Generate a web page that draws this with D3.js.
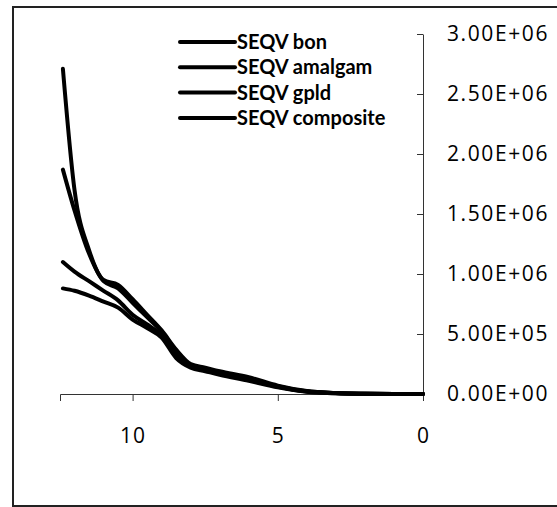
<html>
<head>
<script src="https://cdn.jsdelivr.net/npm/d3@7"></script>
<style>
  body { margin: 0; background: #fff; }
  text { font-family: "Open Sans", Lato, sans-serif; fill: #000; }
</style>
</head>
<body>
<div id="chart"></div>
<script>
var xVals = [12.4, 12, 11.5, 11, 10.5, 10, 9.5, 9, 8.5, 8, 7.5, 7, 6, 5, 4, 3, 2, 1, 0]

var bon       = [2.71e6, 1.70e6, 1.20e6, 0.95e6, 0.91e6, 0.79e6, 0.66e6, 0.53e6, 0.37e6, 0.25e6, 0.22e6, 0.19e6, 0.14e6, 0.07e6, 0.025e6, 0.008e6, 0.002e6, 0, 0]
var amalgam   = [1.87e6, 1.53e6, 1.17e6, 0.94e6, 0.88e6, 0.76e6, 0.64e6, 0.52e6, 0.36e6, 0.24e6, 0.21e6, 0.18e6, 0.13e6, 0.065e6, 0.022e6, 0.008e6, 0.002e6, 0, 0]
var gpld      = [1.10e6, 1.02e6, 0.94e6, 0.86e6, 0.78e6, 0.66e6, 0.58e6, 0.49e6, 0.33e6, 0.23e6, 0.20e6, 0.17e6, 0.12e6, 0.06e6, 0.02e6, 0.007e6, 0.002e6, 0, 0]
var composite = [0.88e6, 0.86e6, 0.82e6, 0.77e6, 0.72e6, 0.62e6, 0.55e6, 0.47e6, 0.30e6, 0.22e6, 0.19e6, 0.16e6, 0.11e6, 0.055e6, 0.018e6, 0.006e6, 0.002e6, 0, 0]

var seriesNames = ["SEQV bon", "SEQV amalgam", "SEQV gpld", "SEQV composite"]
var seriesVals = [bon, amalgam, gpld, composite]

var xTicks = [10, 5, 0]
var yTicks = [0, 5e5, 1e6, 1.5e6, 2e6, 2.5e6, 3e6]

var W = 557, H = 507

var svg = d3.select("#chart")
	.append("svg")
	.attr("width", W)
	.attr("height", H)

// outer frame, right side runs off the picture
svg.append("rect")
	.attr("x", 13)
	.attr("y", 7)
	.attr("width", 600)
	.attr("height", 499)
	.style("fill", "none")
	.style("stroke", "#222")
	.style("stroke-width", 2)

var x = d3.scaleLinear().domain([12.5, 0]).range([60, 423])
var y = d3.scaleLinear().domain([0, 3e6]).range([394, 34])

function fmtE(d) {
	if (d === 0) return "0.00E+00"
	var s = d.toExponential(2).toUpperCase()
	var parts = s.split("E")
	var sign = parts[1][0]
	var exp = parts[1].slice(1)
	if (exp.length < 2) exp = "0" + exp
	return parts[0] + "E" + sign + exp
}

var xAxis = svg.append("g")
	.attr("transform", "translate(0,394)")
	.call(d3.axisBottom(x).tickValues(xTicks).tickSize(7).tickPadding(27).tickFormat(d3.format("d")))
xAxis.selectAll("text").style("font-size", "21px").style("letter-spacing", "1px")
xAxis.selectAll("path, line").style("stroke", "#333")

var yAxis = svg.append("g")
	.attr("transform", "translate(423,0)")
	.call(d3.axisRight(y).tickValues(yTicks).tickSizeInner(-6).tickSizeOuter(0).tickPadding(24).tickFormat(fmtE))
yAxis.selectAll("text").style("font-size", "21px").style("letter-spacing", "1.6px")
yAxis.selectAll("path, line").style("stroke", "#333")

var line = d3.line()
	.x(function(d){ return x(d[0]) })
	.y(function(d){ return y(d[1]) })
	.curve(d3.curveMonotoneX)

seriesVals.forEach(function(vals) {
	var pts = xVals.map(function(v, i){ return [v, vals[i]] })
	svg.append("path")
		.datum(pts)
		.attr("d", line)
		.style("fill", "none")
		.style("stroke", "#000")
		.style("stroke-width", 4)
		.style("stroke-linecap", "round")
})

// legend
var legend = svg.append("g")
seriesNames.forEach(function(name, i) {
	var ly = 42 + i * 25.3
	legend.append("line")
		.attr("x1", 180).attr("x2", 235)
		.attr("y1", ly).attr("y2", ly)
		.style("stroke", "#000")
		.style("stroke-width", 4)
		.style("stroke-linecap", "round")
	legend.append("text")
		.attr("x", 237)
		.attr("y", ly)
		.attr("dy", "0.35em")
		.style("font-family", "Lato, sans-serif")
		.style("font-size", "20px")
		.style("font-weight", "bold")
		.text(name)
})
</script>
</body>
</html>
